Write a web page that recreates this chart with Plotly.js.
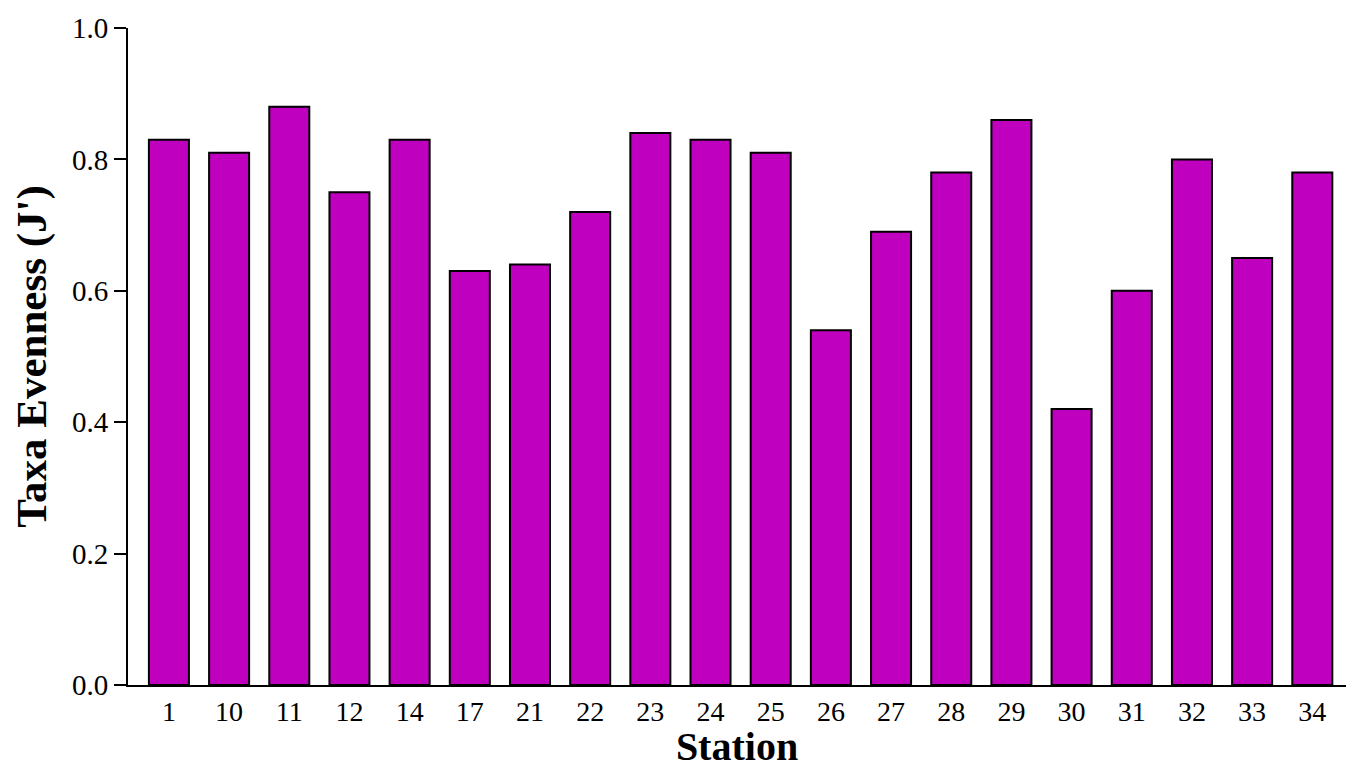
<!DOCTYPE html>
<html>
<head>
<meta charset="utf-8">
<script src="https://cdn.plot.ly/plotly-3.0.1.min.js"></script>
<style>html,body{margin:0;padding:0;background:#fff;}#chart{width:1346px;height:769px;}</style>
</head>
<body>
<div id="chart"></div>
<script>
const stations = ["1","10","11","12","14","17","21","22","23","24","25","26","27","28","29","30","31","32","33","34"];
const evenness = [0.83,0.81,0.88,0.75,0.83,0.63,0.64,0.72,0.84,0.83,0.81,0.54,0.69,0.78,0.86,0.42,0.60,0.80,0.65,0.78];
const yTickVals = [0,0.2,0.4,0.6,0.8,1.0];
const yTickText = ["0.0","0.2","0.4","0.6","0.8","1.0"];

const serif = "Liberation Serif, Times New Roman, serif";

Plotly.newPlot("chart", [{
  type: "bar",
  x: stations,
  y: evenness,
  marker: {color: "#BF00BF", line: {color: "#000", width: 2}},
  hoverinfo: "x+y"
}], {
  width: 1346, height: 769,
  margin: {l: 128, r: 0, t: 28, b: 84},
  paper_bgcolor: "#fff", plot_bgcolor: "#fff",
  bargap: 0.335,
  showlegend: false,
  font: {family: serif, color: "#000"},
  xaxis: {
    type: "category",
    range: [-0.68, 19.56],
    showline: true, linecolor: "#000", linewidth: 2,
    ticks: "", showgrid: false, zeroline: false,
    tickfont: {family: serif, size: 28, color: "#000"},
    title: {text: "<b>Station</b>", font: {family: serif, size: 40, color: "#000"}, standoff: 10}
  },
  yaxis: {
    range: [0, 1],
    tickvals: yTickVals, ticktext: yTickText,
    showline: true, linecolor: "#000", linewidth: 2,
    ticks: "outside", ticklen: 12, tickwidth: 2, tickcolor: "#000",
    showgrid: false, zeroline: false,
    tickfont: {family: serif, size: 29, color: "#000"},
    title: {text: "<b>Taxa Evenness (J')</b>", font: {family: serif, size: 43, color: "#000"}, standoff: 12}
  }
}, {displayModeBar: false, staticPlot: false});
</script>
</body>
</html>
